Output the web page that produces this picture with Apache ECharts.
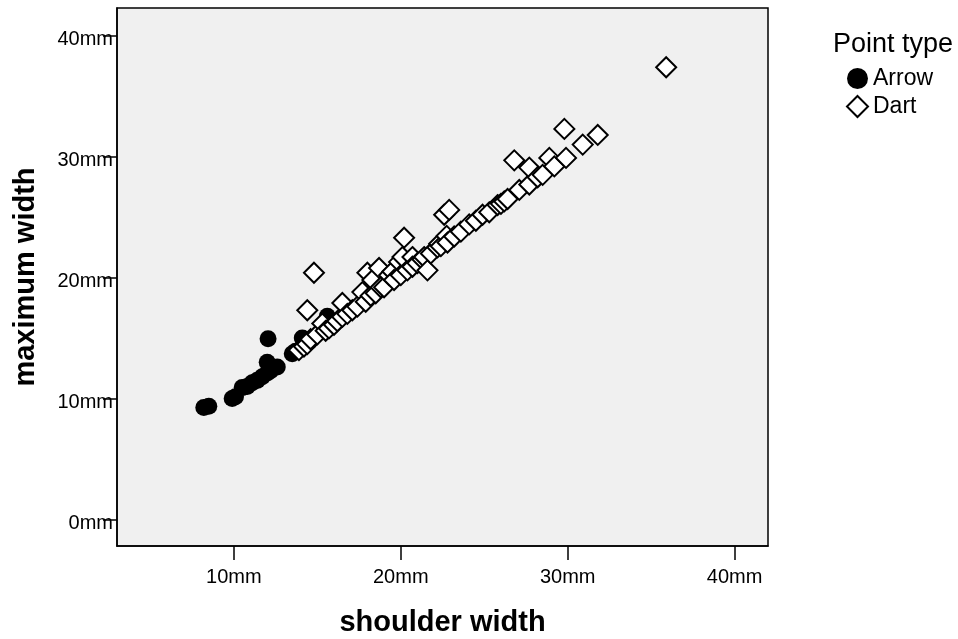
<!DOCTYPE html>
<html>
<head>
<meta charset="utf-8">
<script src="https://cdn.jsdelivr.net/npm/echarts@6/dist/echarts.min.js"></script>
<style>
html,body{margin:0;padding:0;background:#fff;}
#chart{width:958px;height:639px;}
</style>
</head>
<body>
<div id="chart"></div>
<script>
const xTicks = [10, 20, 30, 40];
const yTicks = [0, 10, 20, 30, 40];
const seriesNames = ['Arrow', 'Dart'];
const arrowPoints = [
  [8.2,9.25],[8.5,9.35],[9.9,10.0],[10.1,10.15],[10.5,10.9],[10.8,11.0],[11.1,11.3],[11.4,11.5],
  [11.7,11.8],[12.0,12.1],[12.2,12.3],[12.6,12.6],[12.0,13.0],[12.05,14.95],[13.5,13.7],[13.7,13.9],
  [14.1,15.0],[14.5,14.7],[15.6,16.8]
];
const dartPoints = [
  [13.9,14.0],[14.2,14.3],[14.4,14.5],[14.6,14.9],[14.4,17.3],[14.8,20.4],[15.0,15.3],[15.3,16.2],
  [15.5,15.6],[15.7,15.8],[16.0,16.1],[16.2,16.4],[16.5,16.75],[16.5,17.9],[16.8,17.0],[17.1,17.3],
  [17.4,17.6],[17.7,18.8],[17.9,18.0],[18.0,20.4],[18.2,18.5],[18.3,19.8],[18.5,18.7],[18.7,20.8],
  [18.8,19.2],[19.0,19.2],[19.3,20.2],[19.5,20.5],[19.6,19.8],[19.9,21.3],[20.0,20.2],[20.1,21.7],
  [20.2,23.3],[20.4,20.6],[20.7,21.7],[20.7,20.9],[21.0,21.2],[21.3,21.5],[21.4,21.7],[21.6,20.6],
  [21.8,22.0],[22.2,22.5],[22.3,22.8],[22.4,22.6],[22.6,25.2],[22.9,25.6],[22.75,23.45],[22.8,22.9],
  [23.2,23.4],[23.6,23.8],[24.1,24.4],[24.5,24.7],[24.9,25.2],[25.3,25.4],[25.8,26.0],[26.0,26.1],
  [26.2,26.3],[26.4,26.5],[26.8,29.7],[27.1,27.25],[27.7,27.7],[27.7,29.1],[28.2,28.3],[28.5,28.5],
  [28.9,29.9],[29.2,29.2],[29.8,32.3],[29.9,29.9],[30.9,31.0],[31.8,31.8],[35.9,37.4]
];
const legendTitle = 'Point type';
const xTitle = 'shoulder width';
const yTitle = 'maximum width';

const FONT = 'Liberation Sans, Arial, sans-serif';
const chart = echarts.init(document.getElementById('chart'), null, {renderer: 'canvas'});
chart.setOption({
  backgroundColor: '#ffffff',
  animation: false,
  title: {
    text: legendTitle, left: 828, top: 26,
    textStyle: {fontFamily: FONT, fontSize: 27, fontWeight: 'normal', color: '#000'}
  },
  legend: {
    orient: 'vertical', left: 846, top: 67, padding: 0,
    itemWidth: 21, itemHeight: 21, itemGap: 5,
    data: seriesNames,
    textStyle: {fontFamily: FONT, fontSize: 23, color: '#000', padding: [2,0,0,0]}
  },
  grid: {
    left: 117, top: 8, width: 651, height: 538,
    outerBoundsMode: 'none', containLabel: false,
    show: true, backgroundColor: '#f0f0f0', borderColor: '#000', borderWidth: 1.5
  },
  xAxis: {
    type: 'value', min: 3, max: 42,
    name: xTitle, nameLocation: 'middle', nameGap: 62,
    nameTextStyle: {fontFamily: FONT, fontSize: 29, fontWeight: 'bold', color: '#000'},
    splitLine: {show: false},
    axisLine: {show: true, onZero: false, lineStyle: {color: '#000', width: 1.5}},
    axisTick: {show: true, length: 14, lineStyle: {color: '#000', width: 1.5}, customValues: xTicks},
    axisLabel: {fontFamily: FONT, fontSize: 20, color: '#000', margin: 21, customValues: xTicks,
      formatter: v => v + 'mm'}
  },
  yAxis: {
    type: 'value', min: -2.2, max: 42.3,
    name: yTitle, nameLocation: 'middle', nameGap: 77,
    nameTextStyle: {fontFamily: FONT, fontSize: 29, fontWeight: 'bold', color: '#000'},
    splitLine: {show: false},
    axisLine: {show: true, onZero: false, lineStyle: {color: '#000', width: 1.5}},
    axisTick: {show: true, length: 14, lineStyle: {color: '#000', width: 1.5}, customValues: yTicks},
    axisLabel: {fontFamily: FONT, fontSize: 20, color: '#000', margin: 4, customValues: yTicks,
      verticalAlign: 'top', lineHeight: 8, formatter: v => v + 'mm'}
  },
  series: [
    {
      name: seriesNames[0], type: 'scatter', data: arrowPoints,
      symbol: 'circle', symbolSize: 17,
      itemStyle: {color: '#000', borderColor: '#000', borderWidth: 0, opacity: 1}
    },
    {
      name: seriesNames[1], type: 'scatter', data: dartPoints,
      symbol: 'diamond', symbolSize: 20,
      itemStyle: {color: '#fff', borderColor: '#000', borderWidth: 2, opacity: 1}
    }
  ]
});
</script>
</body>
</html>
